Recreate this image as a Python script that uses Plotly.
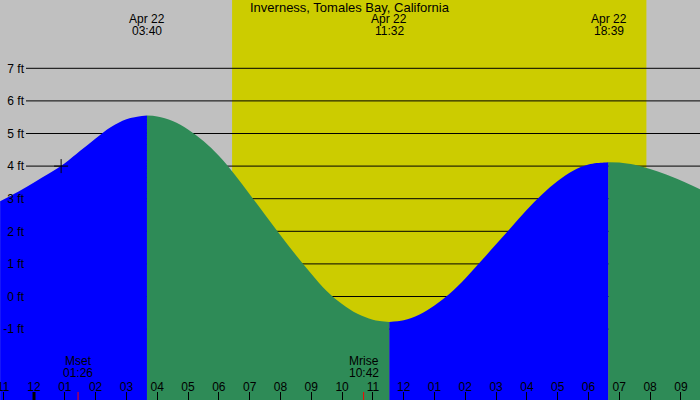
import plotly.graph_objects as go

# tide heights (ft), hours relative to midnight Apr 22
hours = [-1.1, -0.5, 0.0, 0.5, 1.0, 1.5, 2.0, 2.5, 3.0, 3.5, 3.667,
         4.0, 4.5, 5.0, 5.5, 6.0, 6.5, 7.0, 7.5, 8.0, 8.5, 9.0, 9.5, 10.0, 10.5, 11.0, 11.533,
         12.0, 12.5, 13.0, 13.5, 14.0, 14.5, 15.0, 15.5, 16.0, 16.5, 17.0, 17.5, 18.0, 18.5, 18.65,
         19.0, 19.5, 20.0, 20.5, 21.0, 21.65]
tide_ft = [2.92, 3.22, 3.50, 3.78, 4.09, 4.47, 4.85, 5.20, 5.44, 5.54, 5.55,
           5.52, 5.38, 5.12, 4.77, 4.32, 3.76, 3.14, 2.51, 1.88, 1.27, 0.70, 0.17, -0.23, -0.53, -0.71, -0.78,
           -0.73, -0.56, -0.28, 0.09, 0.55, 1.07, 1.60, 2.13, 2.66, 3.14, 3.54, 3.86, 4.05, 4.11, 4.12,
           4.11, 4.04, 3.91, 3.75, 3.56, 3.28]

# high / low tide times and their labels
extreme_hours = [3.667, 11.533, 18.65]
extreme_labels = ["03:40", "11:32", "18:39"]
extreme_date = "Apr 22"

sunrise = 6.43
sunset = 19.88

moon_hours = [1.43, 10.7]
moon_names = ["Mset", "Mrise"]
moon_labels = ["01:26", "10:42"]

now_hour = [0.88]
now_ft = [4.0]

hour_ticks = list(range(-1, 22))
hour_labels = ["11", "12", "01", "02", "03", "04", "05", "06", "07", "08", "09", "10", "11",
               "12", "01", "02", "03", "04", "05", "06", "07", "08", "09"]
ft_ticks = [-1, 0, 1, 2, 3, 4, 5, 6, 7]
ft_labels = [f"{v} ft" for v in ft_ticks]

x_range = [-1.104, 21.62]
y_range = [-3.175, 9.095]

font = dict(family="Liberation Sans, Arial, sans-serif", size=12, color="black")

fig = go.Figure()

# split the curve at each high/low, rising = blue, falling = green
cuts = [0] + [hours.index(h) for h in extreme_hours] + [len(hours) - 1]
for i in range(len(cuts) - 1):
    seg_x = hours[cuts[i]:cuts[i + 1] + 1]
    seg_y = tide_ft[cuts[i]:cuts[i + 1] + 1]
    rising = seg_y[-1] > seg_y[0]
    color = "#0000ff" if rising else "#2e8b57"
    fig.add_trace(go.Scatter(
        x=seg_x, y=[y_range[0]] * len(seg_x),
        mode="lines", line=dict(width=0), hoverinfo="skip", showlegend=False
    ))
    fig.add_trace(go.Scatter(
        x=seg_x, y=seg_y,
        mode="lines", line=dict(width=0, color=color, shape="spline"),
        fill="tonexty", fillcolor=color, showlegend=False
    ))

fig.add_trace(go.Scatter(
    x=now_hour, y=now_ft, mode="markers",
    marker=dict(symbol="cross-thin", size=10, line=dict(color="black", width=1)),
    showlegend=False
))

shapes = [dict(
    type="rect", xref="x", yref="paper", x0=sunrise, x1=sunset, y0=0, y1=1,
    fillcolor="#cccc00", line=dict(width=0), layer="below"
)]
for v in ft_ticks:
    shapes.append(dict(
        type="line", xref="paper", yref="y", x0=26 / 700, x1=1, y0=v, y1=v,
        line=dict(color="black", width=1), layer="below"
    ))

# day boundary tick and moon event ticks
shapes.append(dict(
    type="line", xref="x", yref="paper", x0=0, x1=0, yanchor=0, ysizemode="pixel",
    y0=0, y1=8, line=dict(color="black", width=3)
))
for h in moon_hours:
    shapes.append(dict(
        type="line", xref="x", yref="paper", x0=h, x1=h, yanchor=0, ysizemode="pixel",
        y0=0, y1=8, line=dict(color="red", width=1)
    ))

annotations = [dict(
    text="Inverness, Tomales Bay, California", xref="paper", yref="paper",
    x=0.5, y=1, yanchor="middle", yshift=-7, showarrow=False, font=dict(font, size=13)
)]
for h, t in zip(extreme_hours, extreme_labels):
    annotations.append(dict(text=extreme_date, xref="x", yref="paper", x=h, y=1,
                            yanchor="middle", yshift=-19, showarrow=False, font=font))
    annotations.append(dict(text=t, xref="x", yref="paper", x=h, y=1,
                            yanchor="middle", yshift=-31, showarrow=False, font=font))
for h, n, t in zip(moon_hours, moon_names, moon_labels):
    annotations.append(dict(text=n, xref="x", yref="paper", x=h, y=0,
                            yanchor="middle", yshift=39, showarrow=False, font=font))
    annotations.append(dict(text=t, xref="x", yref="paper", x=h, y=0,
                            yanchor="middle", yshift=27, showarrow=False, font=font))

fig.update_layout(
    width=700,
    height=400,
    margin=dict(l=0, r=0, t=0, b=0),
    paper_bgcolor="#c0c0c0",
    plot_bgcolor="#c0c0c0",
    font=font,
    shapes=shapes,
    annotations=annotations,
    xaxis=dict(
        range=x_range,
        showgrid=False,
        zeroline=False,
        showline=False,
        tickvals=hour_ticks,
        ticktext=hour_labels,
        ticks="inside",
        ticklen=8,
        tickcolor="black",
        ticklabelposition="inside",
        ticklabeloverflow="allow",
        ticklabelstandoff=-2,
        tickfont=font,
        automargin=False,
    ),
    yaxis=dict(
        range=y_range,
        showgrid=False,
        zeroline=False,
        showline=False,
        anchor="free",
        position=24 / 700,
        tickvals=ft_ticks,
        ticktext=ft_labels,
        ticks="",
        tickfont=font,
        automargin=False,
    ),
    hovermode=False,
)

# drop the page's default body margin so the chart sits at the window corner
fig.write_html(
    "out.html",
    config={"displayModeBar": False},
    post_script="document.body.style.margin = '0';",
)
